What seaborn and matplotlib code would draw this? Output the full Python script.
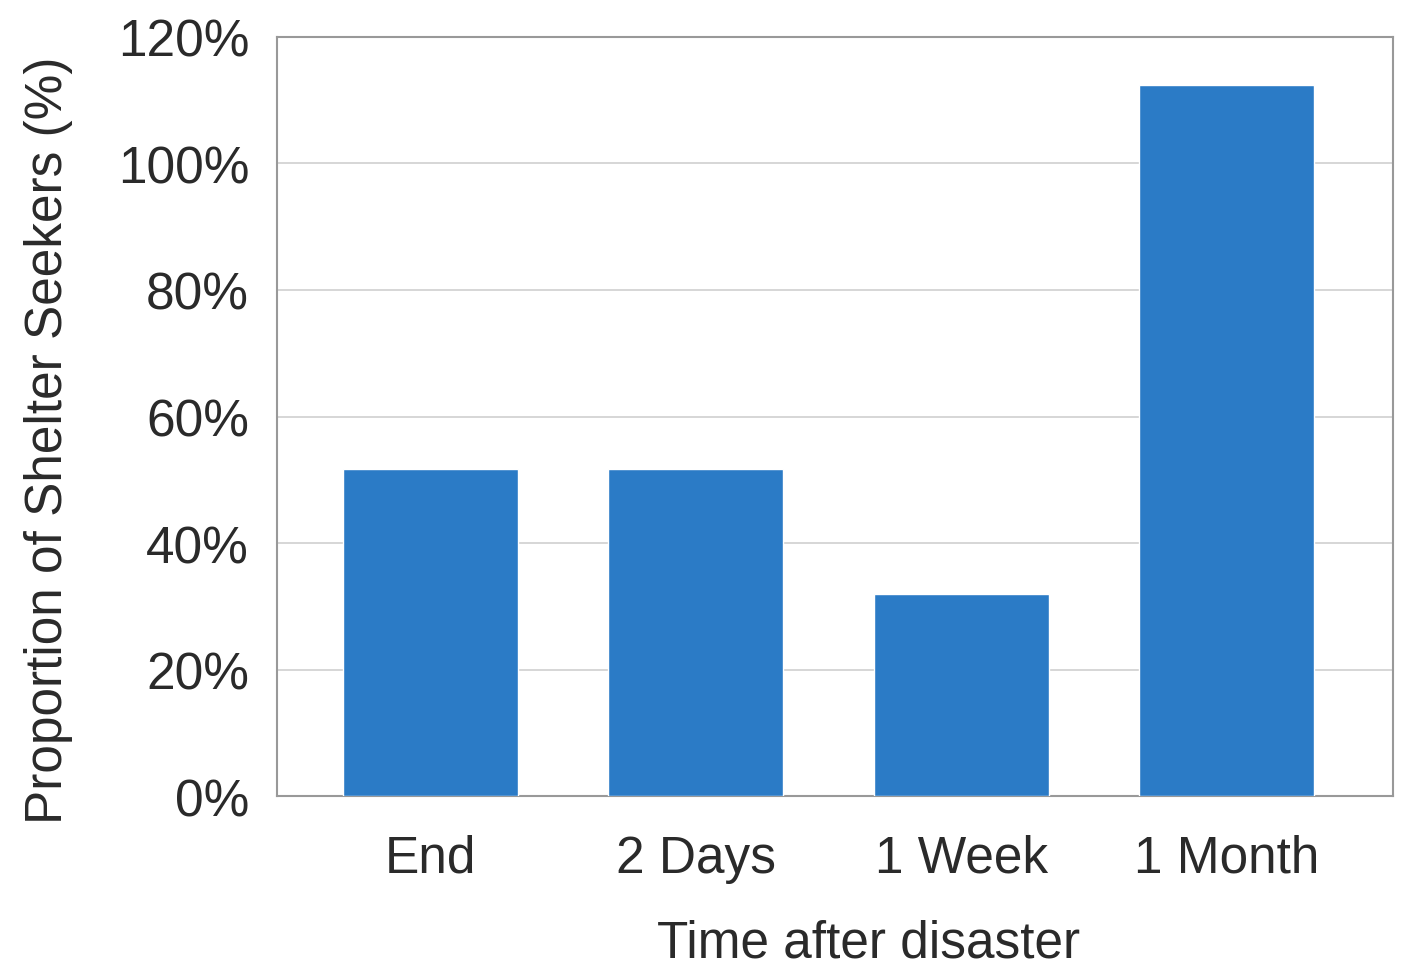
# bar chart: proportion of shelter seekers over time after disaster

import seaborn as sns
import matplotlib.pyplot as plt
import pandas as pd
from matplotlib.ticker import PercentFormatter

# values
periods = ["End", "2 Days", "1 Week", "1 Month"]
shelter_pct = [51.7, 51.7, 31.9, 112.4]

df = pd.DataFrame({"Time after disaster": periods, "Proportion": shelter_pct})

sns.set_style("white")
plt.rcParams['font.family'] = ['Liberation Sans', 'DejaVu Sans']

fig = plt.figure(figsize=(14.06, 9.70), dpi=100)
ax = fig.add_axes([0.197, 0.178, 0.794, 0.783])

sns.barplot(data=df, x="Time after disaster", y="Proportion",
            color="#2b7bc6", saturation=1, width=0.66, ax=ax, zorder=3)

ax.set_ylim(0, 120)
ax.set_xlim(-0.58, 3.63)
ax.set_yticks(range(0, 121, 20))
ax.yaxis.set_major_formatter(PercentFormatter(decimals=0))
ax.grid(axis="y", color="#d0d0d0", linewidth=1.2, zorder=0)

for s in ax.spines.values():
    s.set_color("#999999")
    s.set_linewidth(1.5)

ax.tick_params(axis="both", labelsize=37, length=0, colors="#2a2a2a")
ax.tick_params(axis="y", pad=20)
ax.tick_params(axis="x", pad=27)
ax.set_xlabel("Time after disaster", fontsize=37, color="#2a2a2a", labelpad=26)
ax.set_ylabel("Proportion of Shelter Seekers (%)", fontsize=37, color="#2a2a2a", labelpad=32)
# labels sit a bit off-centre in the original
ax.xaxis.label.set_x(0.53)
ax.yaxis.label.set_y(0.47)

plt.savefig("out.png", dpi=100)
